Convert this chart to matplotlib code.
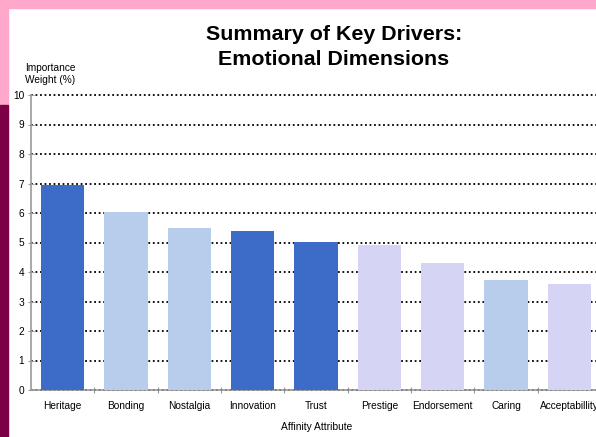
import matplotlib.pyplot as plt
from matplotlib.patches import Rectangle

categories = ["Heritage", "Bonding", "Nostalgia", "Innovation", "Trust",
              "Prestige", "Endorsement", "Caring", "Acceptabillity"]
weights = [6.95, 6.03, 5.49, 5.39, 5.02, 4.92, 4.3, 3.73, 3.6]
groups = ["dark", "light", "light", "dark", "dark", "lav", "lav", "light", "lav"]
COLORS = {"dark": "#3D6CC8", "light": "#B8CCEC", "lav": "#D6D4F4"}

W, H = 596, 437
fig = plt.figure(figsize=(W / 100, H / 100), dpi=100)

# slide background: pink top band, left strip (pink then magenta)
fig.patches.append(Rectangle((0, 1 - 8 / H), 1, 8 / H, transform=fig.transFigure,
                             color="#FFA8CC", zorder=0))
fig.patches.append(Rectangle((0, 1 - 105 / H), 8 / W, 105 / H, transform=fig.transFigure,
                             color="#FFA8CC", zorder=0))
fig.patches.append(Rectangle((0, 0), 8 / W, 1 - 105 / H, transform=fig.transFigure,
                             color="#7B0045", zorder=0))

x0, x1 = 31, 601
y0, y1 = 390, 95
ax = fig.add_axes([x0 / W, 1 - y0 / H, (x1 - x0) / W, (y0 - y1) / H])
ax.patch.set_alpha(0)

x = range(len(categories))
ax.bar(x, weights, width=0.68, color=[COLORS[g] for g in groups], zorder=3)
ax.set_xlim(-0.5, len(categories) - 0.5)
ax.set_ylim(0, 10)
ax.set_yticks(range(0, 11))
ax.yaxis.grid(True, color="black", ls=(0, (1, 1.5)), lw=1.3, zorder=1)
for gl in ax.get_ygridlines():
    gl.set_clip_on(False)
ax.set_axisbelow(True)

ax.set_xticks([i + 0.5 for i in range(len(categories) - 1)])
ax.set_xticklabels([])
ax.set_xticks(list(x), minor=True)
ax.set_xticklabels(categories, minor=True, fontsize=7.3)
ax.tick_params(axis="x", which="minor", length=0, pad=8)
ax.tick_params(axis="x", which="major", length=4, color="#999999", direction="inout")
ax.tick_params(axis="y", length=4, color="#999999", labelsize=7.3, direction="inout", pad=3)

for s in ("top", "right"):
    ax.spines[s].set_visible(False)
for s in ("left", "bottom"):
    ax.spines[s].set_color("#999999")
    ax.spines[s].set_linewidth(1.2)

fig.text(334 / W, 1 - 47 / H, "Summary of Key Drivers:\nEmotional Dimensions",
         ha="center", va="center", fontsize=15.4, fontweight="bold",
         family="Liberation Sans", linespacing=1.4)
fig.text(50 / W, 1 - 74 / H, "Importance\nWeight (%)", ha="center", va="center",
         fontsize=7.3, family="Liberation Sans", linespacing=1.3)
fig.text(317 / W, 1 - 427 / H, "Affinity Attribute", ha="center", va="center",
         fontsize=7.4, family="Liberation Sans")
for lbl in ax.get_xticklabels(minor=True) + ax.get_yticklabels():
    lbl.set_family("Liberation Sans")

fig.savefig("out.png", dpi=100)
